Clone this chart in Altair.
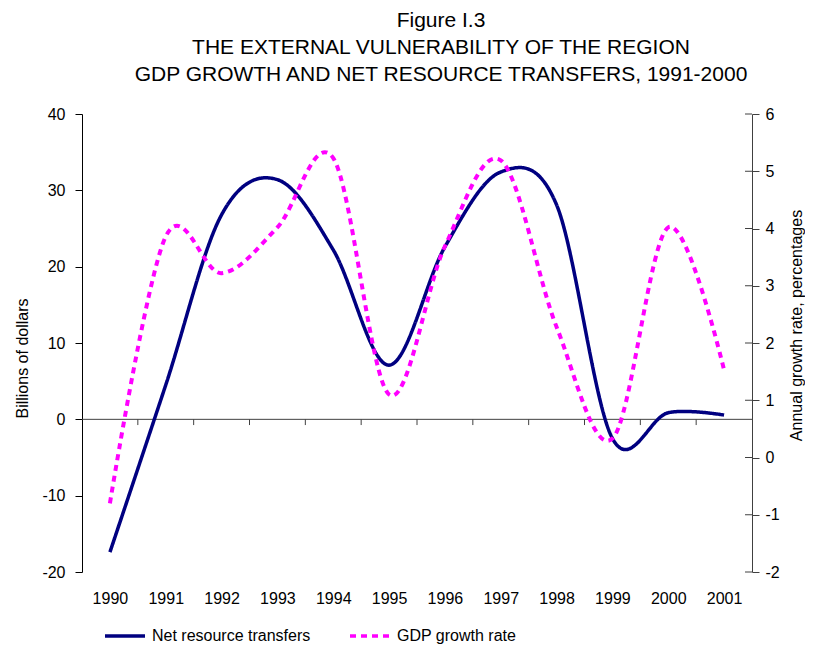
import altair as alt
import pandas as pd

# ---- data ----
years = [1990, 1991, 1992, 1993, 1994, 1995, 1996, 1997, 1998, 1999, 2000, 2001]
net_transfers = [-17.4, 4.5, 26.8, 31.4, 22.2, 7.1, 22.6, 32.4, 28.1, -2.5, 0.87, 0.56]   # billions of dollars
gdp_growth = [-0.80, 3.86, 3.22, 4.02, 5.23, 1.10, 3.69, 5.19, 2.28, 0.33, 4.02, 1.53]    # annual %
left_ticks = [-20, -10, 0, 10, 20, 30, 40]
right_ticks = [-2, -1, 0, 1, 2, 3, 4, 5, 6]
series_names = ["Net resource transfers", "GDP growth rate"]
title_lines = [
    "Figure I.3",
    "THE EXTERNAL VULNERABILITY OF THE REGION",
    "GDP GROWTH AND NET RESOURCE TRANSFERS, 1991-2000",
]

FONT = "Liberation Sans"
NAVY = "#000080"
MAGENTA = "#FF00FF"
AXIS_GREY = "#404040"

net_df = pd.DataFrame({"year": years, "value": net_transfers, "series": series_names[0]})
gdp_df = pd.DataFrame({"year": years, "value": gdp_growth, "series": series_names[1]})
bounds_df = pd.DataFrame({"year": years[:-1]})
rt_df = pd.DataFrame({"r": right_ticks})
zero_df = pd.DataFrame({"z": [0]})

x_scale = alt.Scale(domain=[1989.5, 2001.5], nice=False, zero=False)
x_axis = alt.Axis(values=years, format="d", ticks=False, domain=False, grid=False,
                  labelPadding=18, labelFontSize=16, labelFont=FONT, labelColor="black",
                  labelOverlap=False, labelFlush=False, title=None)

yl_scale = alt.Scale(domain=[-20, 40], nice=False, zero=False)
yl_axis = alt.Axis(values=left_ticks, orient="left", grid=False, ticks=True, tickSize=7,
                   tickColor="black", domainColor="black", labelPadding=10, labelFontSize=16,
                   labelFont=FONT, labelColor="black", labelExpr="datum.value + ''",
                   title="Billions of dollars", titleFont=FONT,
                   titleFontSize=16, titleFontWeight="normal", titleColor="black",
                   titleAngle=270, titleX=-60, titleY=244, titleAlign="center",
                   titleBaseline="middle")

yr_scale = alt.Scale(domain=[-2, 6], nice=False, zero=False)
yr_axis = alt.Axis(values=right_ticks, orient="right", grid=False, ticks=True, tickSize=7,
                   tickColor=AXIS_GREY, domainColor=AXIS_GREY, labelPadding=6, labelFontSize=16,
                   labelFont=FONT, labelColor="black", labelExpr="datum.value + ''",
                   title="Annual growth rate, percentages", titleFont=FONT,
                   titleFontSize=16, titleFontWeight="normal", titleColor="black",
                   titleAngle=270, titleX=44, titleY=211, titleAlign="center",
                   titleBaseline="middle")

legend = alt.Legend(title=None, orient="none", legendX=21, legendY=500, direction="horizontal",
                    labelFontSize=16, labelFont=FONT, labelColor="black", symbolSize=1600,
                    symbolStrokeWidth=3.5, columnPadding=32, labelOffset=5, gridAlign="none")
color = alt.Color("series:N", scale=alt.Scale(domain=series_names, range=[NAVY, MAGENTA]), legend=legend)
dash = alt.StrokeDash("series:N", scale=alt.Scale(domain=series_names, range=[[1, 0], [6, 5]]), legend=legend)

zero_line = alt.Chart(zero_df).mark_rule(color=AXIS_GREY, strokeWidth=1).encode(
    y=alt.Y("z:Q", scale=yl_scale, axis=yl_axis)
)

x_ticks = alt.Chart(bounds_df).transform_calculate(b="datum.year + 0.5").mark_rule(
    color=AXIS_GREY, strokeWidth=1
).encode(
    x=alt.X("b:Q", scale=x_scale, axis=x_axis),
    y=alt.YDatum(0, scale=yl_scale, axis=yl_axis),
    y2=alt.Y2Datum(-0.75),
)

blue = alt.Chart(net_df).mark_line(strokeWidth=3.5, interpolate="cardinal").encode(
    x=alt.X("year:Q", scale=x_scale, axis=x_axis),
    y=alt.Y("value:Q", scale=yl_scale, axis=yl_axis),
    color=color,
    strokeDash=dash,
)

pink = alt.Chart(gdp_df).mark_line(strokeWidth=4, interpolate="cardinal").encode(
    x=alt.X("year:Q", scale=x_scale, axis=x_axis),
    y=alt.Y("value:Q", scale=yr_scale, axis=yr_axis),
    color=color,
    strokeDash=dash,
)

r_ticks = alt.Chart(rt_df).mark_rule(color=AXIS_GREY, strokeWidth=1).encode(
    y=alt.Y("r:Q", scale=yr_scale, axis=yr_axis),
    x=alt.XDatum(2001.375, scale=x_scale, axis=x_axis),
    x2=alt.X2Datum(2001.5),
)

left = alt.layer(zero_line, x_ticks, blue)
right = alt.layer(pink, r_ticks)

chart = alt.layer(left, right).resolve_scale(y="independent").properties(
    width=670,
    height=458,
    title=alt.TitleParams(text=title_lines, fontSize=21, font=FONT, fontWeight="normal",
                          color="black", anchor="middle", lineHeight=27, offset=21, dx=24,
                          frame="group"),
    autosize=alt.AutoSizeParams(type="none"),
    padding={"left": 74, "top": 106, "right": 53, "bottom": 72},
).configure_view(stroke=None)

chart.save("out.html", embed_options={"renderer": "svg", "actions": False})
